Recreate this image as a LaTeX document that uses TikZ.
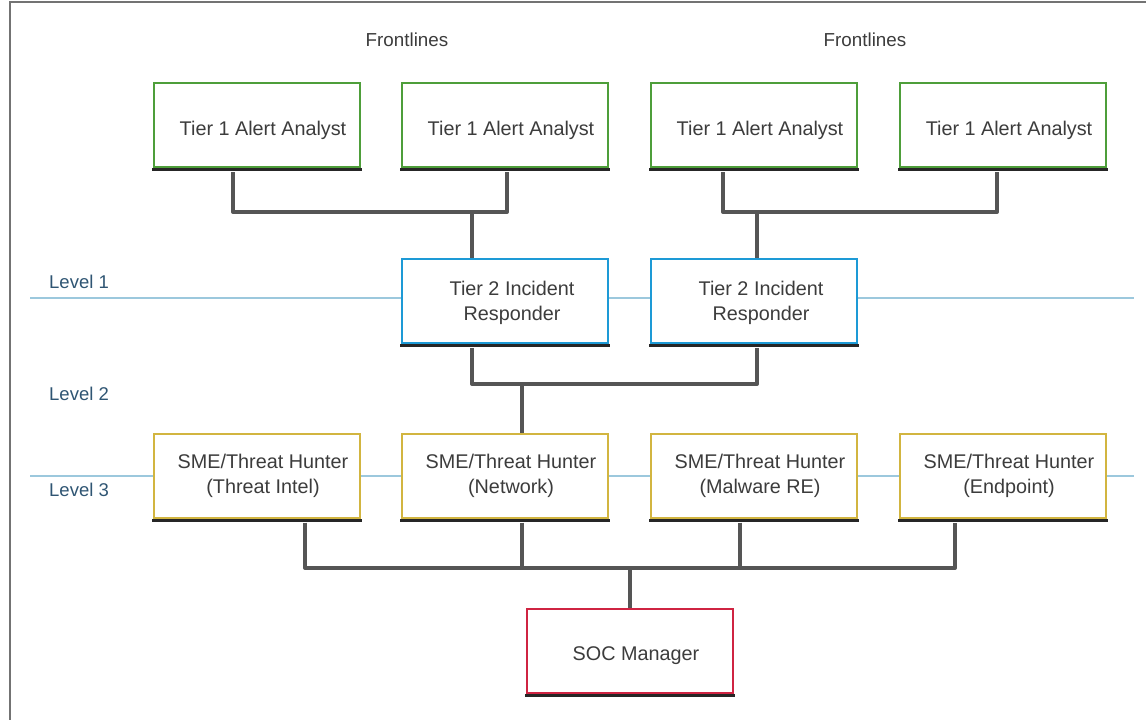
\documentclass[tikz,border=0pt]{standalone}
\usepackage{fontspec}
\setmainfont{Liberation Sans}
\usetikzlibrary{calc}
\definecolor{tgreen}{HTML}{4E9E3A}
\definecolor{tblue}{HTML}{1D9AD6}
\definecolor{tyellow}{HTML}{D2B540}
\definecolor{tred}{HTML}{CF2442}
\definecolor{tlevel}{HTML}{9CC8DD}
\definecolor{ttext}{HTML}{3C3C3C}
\definecolor{tlab}{HTML}{2F5573}
\definecolor{tconn}{HTML}{555555}
\tikzset{
  box/.style={draw, line width=2pt, fill=white, minimum width=206pt, minimum height=84pt, inner sep=0pt},
  gbox/.style={box, draw=tgreen},
  bbox/.style={box, draw=tblue},
  ybox/.style={box, draw=tyellow},
  rbox/.style={box, draw=tred},
  btext/.style={align=center, text=ttext, font=\fontsize{19.8}{25}\selectfont, inner sep=0pt},
  shadow/.style={draw=black!85, line width=3pt},
  conn/.style={draw=tconn, line width=4pt, line join=round},
  level/.style={draw=tlevel, line width=2.2pt},
  lab/.style={text=tlab, font=\fontsize{18.5}{22}\selectfont, anchor=west, inner sep=0pt},
  front/.style={text=ttext, font=\fontsize{18.8}{22}\selectfont, inner sep=0pt}
}
\begin{document}
\begin{tikzpicture}[x=1pt,y=-1pt]
\useasboundingbox (0,0) rectangle (1146,720);
\fill[white] (0,0) rectangle (1146,720);
% border
\draw[line width=2pt, black!55] (9.5,720) -- (9.5,1.5) -- (1146,1.5);
% level lines
\coordinate (l1a) at (30,298);
\coordinate (l1b) at (1134,298);
\coordinate (l3a) at (30,476);
\coordinate (l3b) at (1134,476);
\draw[level] (l1a) -- (l1b);
\draw[level] (l3a) -- (l3b);
\node[lab] (lv1) at (49,282) {Level 1};
\node[lab] (lv2) at (49,394) {Level 2};
\node[lab] (lv3) at (49,490) {Level 3};
\node[front] (f1) at (407,40) {Frontlines};
\node[front] (f2) at (865,40) {Frontlines};
% boxes
\node[gbox] (g1) at (257,125) {};
\node[gbox] (g2) at (505,125) {};
\node[gbox] (g3) at (754,125) {};
\node[gbox] (g4) at (1003,125) {};
\node[bbox] (b1) at (505,301) {};
\node[bbox] (b2) at (754,301) {};
\node[ybox] (y1) at (257,475.5) {};
\node[ybox] (y2) at (505,475.5) {};
\node[ybox] (y3) at (754,475.5) {};
\node[ybox] (y4) at (1003,475.5) {};
\node[rbox] (r1) at (630,650.5) {};
% shadows
\foreach \n in {g1,g2,g3,g4,b1,b2,y1,y2,y3,y4,r1}
  \draw[shadow] ($(\n.south west)+(-1,1.8)$) -- ($(\n.south east)+(1,1.8)$);
% texts
\node[btext] (g1t) at ($(g1)+(6,5)$) {Tier 1 Alert Analyst};
\node[btext] (g2t) at ($(g2)+(6,5)$) {Tier 1 Alert Analyst};
\node[btext] (g3t) at ($(g3)+(6,5)$) {Tier 1 Alert Analyst};
\node[btext] (g4t) at ($(g4)+(6,5)$) {Tier 1 Alert Analyst};
\node[btext] (b1t) at ($(b1)+(7,2)$) {Tier 2 Incident\\Responder};
\node[btext] (b2t) at ($(b2)+(7,2)$) {Tier 2 Incident\\Responder};
\node[btext] (y1t) at ($(y1)+(6,0)$) {SME/Threat Hunter\\(Threat Intel)};
\node[btext] (y2t) at ($(y2)+(6,0)$) {SME/Threat Hunter\\(Network)};
\node[btext] (y3t) at ($(y3)+(6,0)$) {SME/Threat Hunter\\(Malware RE)};
\node[btext] (y4t) at ($(y4)+(6,0)$) {SME/Threat Hunter\\(Endpoint)};
\node[btext] (r1t) at ($(r1)+(6,5)$) {SOC Manager};
% junctions
\coordinate (j1) at (472,212);
\coordinate (j2) at (757,212);
\coordinate (j3) at (522,384);
\coordinate (j4) at (630,568);
\coordinate (d2) at ($(y2.south)+(17,4)$);
\coordinate (d3) at ($(y3.south)+(-14,4)$);
% connectors
\draw[conn] ($(g1.south)+(-24,4)$) |- (j1) -| ($(g2.south)+(2,4)$);
\draw[conn] (j1) -- (j1 |- b1.north);
\draw[conn] ($(g3.south)+(-31,4)$) |- (j2) -| ($(g4.south)+(-6,4)$);
\draw[conn] (j2) -- (j2 |- b2.north);
\draw[conn] ($(b1.south)+(-33,4)$) |- (j3) -| ($(b2.south)+(3,4)$);
\draw[conn] (j3) -- (j3 |- y2.north);
\draw[conn] ($(y1.south)+(48,4)$) |- (j4) -| ($(y4.south)+(-48,4)$);
\draw[conn] (d2) -- (d2 |- j4);
\draw[conn] (d3) -- (d3 |- j4);
\draw[conn] (j4) -- (j4 |- r1.north);
\end{tikzpicture}
\end{document}
